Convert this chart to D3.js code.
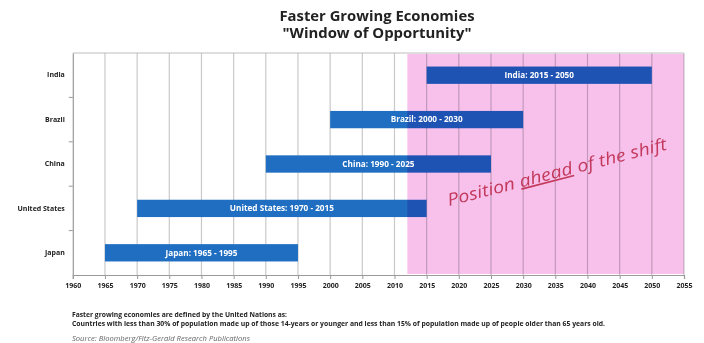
<!DOCTYPE html>
<html>
<head>
<meta charset="utf-8">
<script src="https://cdn.jsdelivr.net/npm/d3@7"></script>
<style>
  html, body { margin: 0; padding: 0; background: #fff; }
  svg { display: block; }
  text { font-family: "Open Sans", "DejaVu Sans", sans-serif; }
</style>
</head>
<body>
<svg id="chart" width="704" height="343"></svg>
<script>
// ---- data ----
const countries = ["India", "Brazil", "China", "United States", "Japan"];
const startYears = [2015, 2000, 1990, 1970, 1965];
const endYears = [2050, 2030, 2025, 2015, 1995];
const xTicks = [1960, 1965, 1970, 1975, 1980, 1985, 1990, 1995, 2000, 2005, 2010, 2015, 2020, 2025, 2030, 2035, 2040, 2045, 2050, 2055];
const windowStart = 2012;
const titleLines = ["Faster Growing Economies", "\"Window of Opportunity\""];
const noteLines = [
  "Faster growing economies are defined by the United Nations as:",
  "Countries with less than 30% of population made up of those 14-years or younger and less than 15% of population made up of people older than 65 years old."
];
const sourceText = "Source: Bloomberg/Fitz-Gerald Research Publications";
const annotation = ["Position ", "ahead", " of the shift"];

const bars = countries.map((c, i) => ({ country: c, start: startYears[i], end: endYears[i] }));

// ---- layout ----
const pL = 72.8, pR = 684, pT = 53, pB = 275;
const svg = d3.select("#chart");

const x = d3.scaleLinear().domain([1960, 2055]).range([pL, pR]);
const y = d3.scaleBand().domain(countries).range([pT, pB]).paddingInner(0.61).paddingOuter(0.305);

// title
svg.selectAll("text.title").data(titleLines).join("text")
  .attr("class", "title")
  .attr("x", 377).attr("y", (d, i) => 21 + i * 16.5)
  .attr("text-anchor", "middle")
  .attr("font-family", "\"Liberation Sans\", Arial, sans-serif")
  .attr("font-size", 13.5).attr("font-weight", "bold").attr("fill", "#222")
  .attr("textLength", (d, i) => i === 0 ? 195 : 189)
  .attr("lengthAdjust", "spacingAndGlyphs")
  .text(d => d);

// gridlines
svg.append("g").selectAll("line").data(xTicks.slice(1)).join("line")
  .attr("x1", d => x(d)).attr("x2", d => x(d))
  .attr("y1", pT).attr("y2", pB)
  .attr("stroke", "#c9c9c9").attr("stroke-width", 1.2);

// frame: top
svg.append("line").attr("x1", pL).attr("x2", pR).attr("y1", pT).attr("y2", pT)
  .attr("stroke", "#bdbdbd").attr("stroke-width", 1.2);

// bars
svg.append("g").selectAll("rect").data(bars).join("rect")
  .attr("x", d => x(d.start)).attr("width", d => x(d.end) - x(d.start))
  .attr("y", d => y(d.country)).attr("height", y.bandwidth())
  .attr("fill", "#1f6ec2");

// pink window overlay (multiply)
svg.append("rect")
  .attr("x", x(windowStart)).attr("width", x(2055) - x(windowStart))
  .attr("y", pT + 1).attr("height", pB - pT - 2)
  .attr("fill", "#f7c1ec")
  .style("mix-blend-mode", "multiply");

// bar labels
svg.append("g").selectAll("text").data(bars).join("text")
  .attr("x", d => (x(d.start) + x(d.end)) / 2)
  .attr("y", d => y(d.country) + y.bandwidth() / 2)
  .attr("dy", "0.35em")
  .attr("text-anchor", "middle")
  .attr("font-size", 8.2).attr("font-weight", "bold").attr("fill", "#fff")
  .text(d => `${d.country}: ${d.start} - ${d.end}`);

// x axis
const xAxis = svg.append("g").attr("transform", `translate(0,${pB})`)
  .call(d3.axisBottom(x).tickValues(xTicks).tickFormat(d3.format("d")).tickSize(4).tickPadding(4));
xAxis.select(".domain").attr("stroke", "#9a9a9a").attr("stroke-width", 1.2);
xAxis.selectAll(".tick line").attr("stroke", "#9a9a9a");
xAxis.selectAll(".tick text").attr("font-size", 7).attr("font-weight", "bold").attr("fill", "#222")
  .attr("font-family", "\"Open Sans\", sans-serif");

// y axis
const yAxis = svg.append("g").attr("transform", `translate(${pL},0)`)
  .call(d3.axisLeft(y).tickSize(0).tickPadding(8));
yAxis.select(".domain").attr("stroke", "#9a9a9a").attr("stroke-width", 1.2);
yAxis.selectAll(".tick text").attr("font-size", 7).attr("font-weight", "bold").attr("fill", "#222")
  .attr("font-family", "\"Open Sans\", sans-serif");
// category boundary ticks
const bounds = countries.slice(1).map(c => y(c) - y.step() * y.paddingInner() / 2);
svg.append("g").selectAll("line").data(bounds).join("line")
  .attr("x1", pL - 4).attr("x2", pL).attr("y1", d => d).attr("y2", d => d)
  .attr("stroke", "#9a9a9a");

// annotation
const ann = svg.append("text")
  .attr("transform", "translate(449,206) rotate(-14.5)")
  .attr("font-size", 17).attr("fill", "#c43a5c")
  .attr("font-family", "\"DejaVu Serif\", serif").attr("font-style", "italic")
  .attr("textLength", 226).attr("lengthAdjust", "spacingAndGlyphs");
ann.selectAll("tspan").data(annotation).join("tspan")
  .attr("text-decoration", (d, i) => i === 1 ? "underline" : null)
  .text(d => d);

// footnotes
svg.selectAll("text.note").data(noteLines).join("text")
  .attr("class", "note")
  .attr("x", 72).attr("y", (d, i) => 317 + i * 8.5)
  .attr("font-size", 6.6).attr("font-weight", "bold").attr("fill", "#222")
  .attr("textLength", (d, i) => i === 0 ? 215 : 533)
  .attr("lengthAdjust", "spacingAndGlyphs")
  .text(d => d);

svg.append("text")
  .attr("x", 72).attr("y", 341)
  .attr("font-size", 6.4).attr("font-style", "italic").attr("fill", "#666")
  .attr("textLength", 178).attr("lengthAdjust", "spacingAndGlyphs")
  .text(sourceText);
</script>
</body>
</html>
